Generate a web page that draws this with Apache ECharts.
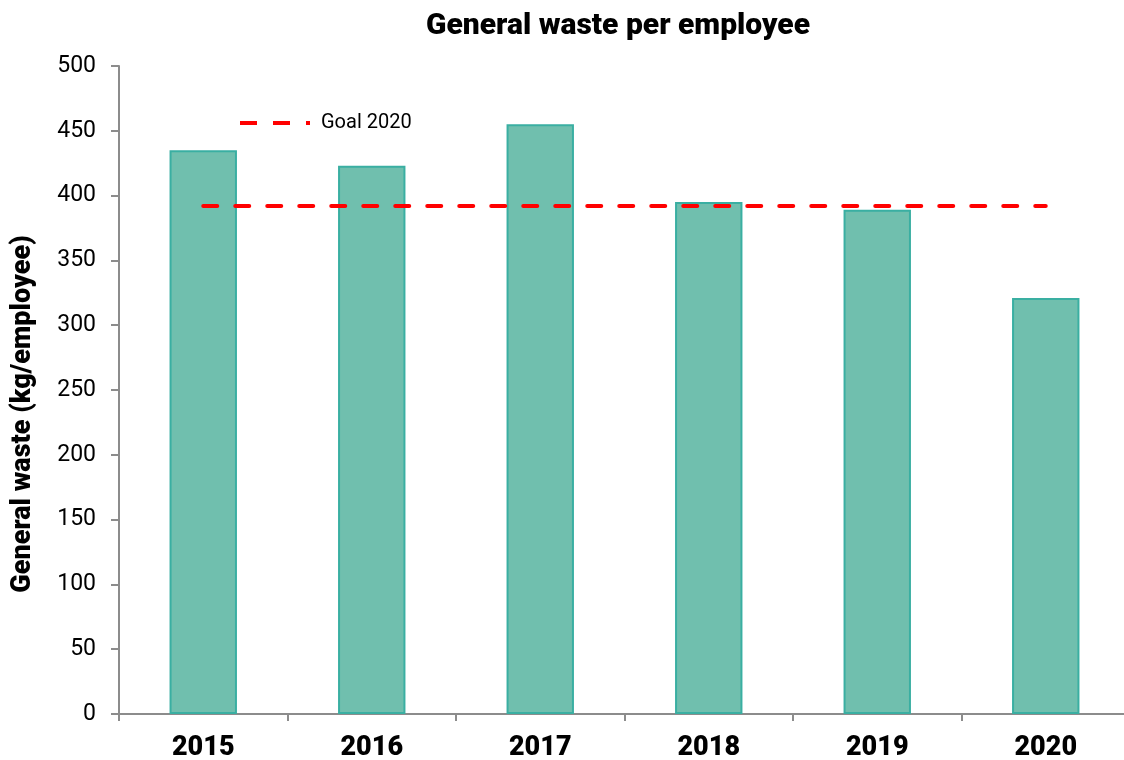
<!DOCTYPE html>
<html>
<head>
<meta charset="utf-8">
<script src="https://cdn.jsdelivr.net/npm/echarts@6/dist/echarts.min.js"></script>
<style>
  html, body { margin: 0; padding: 0; background: #fff; }
  #chart { width: 1124px; height: 760px; }
</style>
</head>
<body>
<div id="chart"></div>
<script>
const years = ['2015', '2016', '2017', '2018', '2019', '2020'];
const wasteValues = [435, 423, 455, 395, 389, 321];
const goalValues = [392, 392, 392, 392, 392, 392];
const yTicks = [0, 500, 50]; // min, max, step

const chart = echarts.init(document.getElementById('chart'));
chart.setOption({
    animation: false,
    textStyle: {fontFamily: 'Roboto, "Liberation Sans", sans-serif'},
    title: {
        text: 'General waste per employee',
        left: 613,
        top: 6,
        textAlign: 'center',
        textStyle: {fontSize: 30, fontWeight: 900, color: '#000'}
    },
    legend: {
        data: ['Goal 2020'],
        left: 235,
        top: 108,
        icon: 'path://M0,0h17v4h-17z M33,0h17v4h-17z M66,0h4v4h-4z',
        itemWidth: 70,
        itemHeight: 5,
        itemGap: 8,
        itemStyle: {color: '#ff0000'},
        textStyle: {fontSize: 20, color: '#000', padding: [0, 0, 0, 6]}
    },
    grid: {left: 119, right: -6, top: 66, bottom: 46, outerBoundsMode: 'none'},
    xAxis: {
        type: 'category',
        data: years,
        axisLine: {lineStyle: {color: '#8c8c8c', width: 2}},
        axisTick: {show: true, length: 7, lineStyle: {color: '#8c8c8c', width: 2}},
        axisLabel: {fontSize: 27, fontWeight: 900, color: '#000', margin: 21}
    },
    yAxis: {
        type: 'value',
        min: yTicks[0],
        max: yTicks[1],
        interval: yTicks[2],
        name: 'General waste (kg/employee)',
        nameLocation: 'middle',
        nameGap: 82,
        nameTextStyle: {fontSize: 27, fontWeight: 900, color: '#000', padding: [0, 48, 0, 0]},
        axisLine: {show: true, lineStyle: {color: '#8c8c8c', width: 2}},
        axisTick: {show: true, length: 8, lineStyle: {color: '#8c8c8c', width: 2}},
        splitLine: {show: false},
        axisLabel: {fontSize: 23, color: '#000', margin: 23}
    },
    series: [
        {
            name: 'Waste',
            type: 'bar',
            data: wasteValues,
            barWidth: '40%',
            itemStyle: {color: '#70bfae', borderColor: '#3aafa2', borderWidth: 2}
        },
        {
            name: 'Goal 2020',
            type: 'line',
            data: goalValues,
            symbol: 'none',
            z: 5,
            lineStyle: {color: '#ff0000', width: 4, type: [14, 18], cap: 'round'},
            itemStyle: {color: '#ff0000'}
        }
    ]
});
</script>
</body>
</html>
